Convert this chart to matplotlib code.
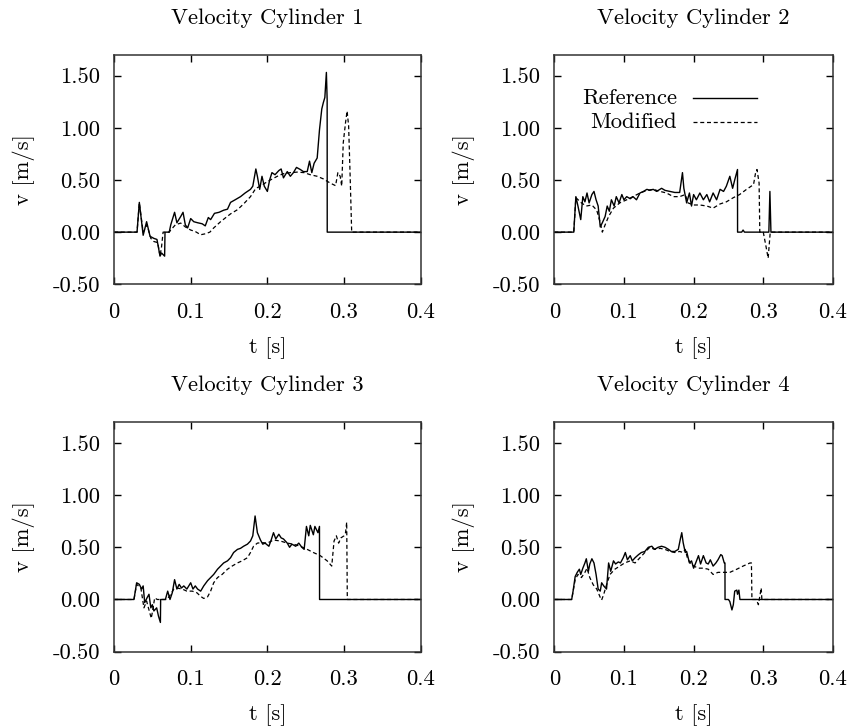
import matplotlib
matplotlib.use("Agg")
import matplotlib.pyplot as plt

plt.rcParams["font.family"] = ["cmr10", "DejaVu Serif"]
plt.rcParams["mathtext.fontset"] = "cm"
plt.rcParams["axes.unicode_minus"] = False

# cylinder 1
t_ref1 = [0, 0.030, 0.033, 0.038, 0.0425, 0.047, 0.052, 0.056, 0.060, 0.062, 0.066, 0.0665, 0.072,
          0.074, 0.079, 0.082, 0.087, 0.090, 0.093, 0.096, 0.100, 0.104, 0.109, 0.115, 0.119, 0.123,
          0.126, 0.131, 0.137, 0.143, 0.148, 0.152, 0.158, 0.165, 0.171, 0.178, 0.181, 0.185, 0.187,
          0.190, 0.193, 0.196, 0.200, 0.203, 0.206, 0.210, 0.215, 0.218, 0.221, 0.226, 0.230, 0.234,
          0.238, 0.243, 0.247, 0.252, 0.255, 0.258, 0.261, 0.265, 0.268, 0.271, 0.273, 0.275, 0.277,
          0.278, 0.2781, 0.4]
v_ref1 = [0, 0, 0.285, -0.03, 0.10, -0.04, -0.06, -0.07, -0.23, -0.20, -0.23, 0, 0,
          0.07, 0.19, 0.09, 0.15, 0.19, 0.07, 0.04, 0.13, 0.10, 0.09, 0.08, 0.06, 0.14,
          0.12, 0.18, 0.19, 0.21, 0.22, 0.285, 0.31, 0.34, 0.375, 0.41, 0.44, 0.605, 0.535,
          0.41, 0.535, 0.44, 0.39, 0.50, 0.57, 0.55, 0.59, 0.605, 0.52, 0.58, 0.535, 0.57,
          0.62, 0.60, 0.58, 0.58, 0.68, 0.57, 0.66, 0.71, 0.98, 1.18, 1.24, 1.29, 1.53,
          1.27, 0, 0]
t_mod1 = [0, 0.030, 0.033, 0.038, 0.043, 0.048, 0.052, 0.057, 0.060, 0.062, 0.064, 0.072,
          0.074, 0.080, 0.087, 0.093, 0.100, 0.106, 0.113, 0.119, 0.125, 0.130, 0.139, 0.145,
          0.152, 0.161, 0.169, 0.178, 0.185, 0.191, 0.197, 0.204, 0.213, 0.221, 0.230, 0.239,
          0.248, 0.256, 0.265, 0.273, 0.282, 0.289, 0.292, 0.295, 0.297, 0.299, 0.302, 0.304,
          0.306, 0.308, 0.310, 0.4]
v_mod1 = [0, 0, 0.28, 0, 0.07, -0.06, -0.09, -0.10, -0.23, -0.14, 0, 0,
          0.02, 0.07, 0.087, 0.05, 0.02, 0.006, -0.025, -0.016, 0, 0.04, 0.10, 0.135,
          0.175, 0.215, 0.27, 0.34, 0.42, 0.44, 0.47, 0.50, 0.535, 0.56, 0.57, 0.575,
          0.57, 0.55, 0.535, 0.51, 0.47, 0.445, 0.57, 0.535, 0.44, 0.855, 1.05, 1.16,
          1.02, 0.535, 0, 0]

# cylinder 2
t_ref2 = [0, 0.028, 0.031, 0.034, 0.038, 0.041, 0.044, 0.047, 0.050, 0.054, 0.057, 0.060, 0.063,
          0.066, 0.069, 0.073, 0.076, 0.079, 0.082, 0.086, 0.089, 0.093, 0.097, 0.100, 0.104,
          0.109, 0.113, 0.118, 0.123, 0.128, 0.133, 0.137, 0.142, 0.147, 0.154, 0.159, 0.166,
          0.173, 0.180, 0.184, 0.186, 0.190, 0.194, 0.197, 0.200, 0.204, 0.209, 0.214, 0.219,
          0.223, 0.228, 0.233, 0.238, 0.243, 0.247, 0.252, 0.256, 0.259, 0.263, 0.2631, 0.269,
          0.271, 0.273, 0.308, 0.3095, 0.311, 0.4]
v_ref2 = [0, 0, 0.34, 0.25, 0.12, 0.34, 0.29, 0.375, 0.28, 0.36, 0.39, 0.31, 0.25,
          0.05, 0.09, 0.15, 0.25, 0.20, 0.31, 0.25, 0.34, 0.28, 0.36, 0.31, 0.34,
          0.32, 0.34, 0.31, 0.375, 0.39, 0.41, 0.40, 0.41, 0.39, 0.42, 0.40, 0.39,
          0.38, 0.38, 0.57, 0.42, 0.28, 0.375, 0.25, 0.36, 0.31, 0.375, 0.31, 0.36,
          0.29, 0.375, 0.31, 0.41, 0.39, 0.44, 0.535, 0.42, 0.50, 0.60, 0, 0,
          0.02, 0, 0, 0.39, 0, 0]
t_mod2 = [0, 0.028, 0.031, 0.039, 0.046, 0.054, 0.061, 0.066, 0.069, 0.073, 0.078, 0.085,
          0.094, 0.104, 0.113, 0.123, 0.133, 0.142, 0.152, 0.161, 0.171, 0.180, 0.188, 0.192,
          0.200, 0.209, 0.219, 0.228, 0.238, 0.247, 0.257, 0.266, 0.276, 0.286, 0.289, 0.291,
          0.294, 0.295, 0.300, 0.304, 0.307, 0.310, 0.4]
v_mod2 = [0, 0, 0.33, 0.28, 0.25, 0.26, 0.21, 0.09, 0, 0.07, 0.15, 0.23,
          0.28, 0.31, 0.34, 0.375, 0.40, 0.41, 0.39, 0.375, 0.34, 0.34, 0.36, 0.28,
          0.26, 0.26, 0.25, 0.23, 0.27, 0.29, 0.33, 0.36, 0.41, 0.455, 0.57, 0.60,
          0.47, 0, 0, -0.14, -0.25, 0, 0]

# cylinder 3
t_ref3 = [0, 0.026, 0.0295, 0.033, 0.036, 0.038, 0.040, 0.043, 0.0456, 0.048, 0.050, 0.052,
          0.0556, 0.058, 0.0605, 0.0608, 0.067, 0.070, 0.073, 0.076, 0.079, 0.082, 0.085, 0.088,
          0.091, 0.095, 0.100, 0.103, 0.106, 0.109, 0.113, 0.117, 0.122, 0.126, 0.130, 0.135,
          0.139, 0.143, 0.148, 0.152, 0.156, 0.161, 0.165, 0.169, 0.174, 0.178, 0.181, 0.184,
          0.187, 0.191, 0.194, 0.197, 0.202, 0.205, 0.208, 0.211, 0.215, 0.218, 0.221, 0.226,
          0.229, 0.232, 0.237, 0.241, 0.245, 0.248, 0.251, 0.254, 0.256, 0.260, 0.262, 0.266,
          0.268, 0.2681, 0.4]
v_ref3 = [0, 0, 0.16, 0.145, 0.10, 0.13, -0.03, 0.015, 0.05, -0.08, -0.05, -0.11,
          -0.08, -0.16, -0.22, 0, 0, 0.08, 0, 0.065, 0.19, 0.10, 0.145, 0.11,
          0.13, 0.10, 0.16, 0.10, 0.13, 0.10, 0.08, 0.13, 0.18, 0.21, 0.24, 0.29,
          0.32, 0.35, 0.37, 0.40, 0.45, 0.48, 0.49, 0.51, 0.53, 0.56, 0.61, 0.80,
          0.64, 0.57, 0.53, 0.54, 0.51, 0.57, 0.64, 0.58, 0.625, 0.59, 0.58, 0.54,
          0.50, 0.53, 0.51, 0.54, 0.50, 0.48, 0.70, 0.61, 0.71, 0.62, 0.70, 0.64,
          0.70, 0, 0]
t_mod3 = [0, 0.026, 0.0295, 0.035, 0.039, 0.0425, 0.0456, 0.0486, 0.051, 0.053, 0.0564, 0.069,
          0.074, 0.078, 0.082, 0.089, 0.095, 0.102, 0.108, 0.113, 0.117, 0.122, 0.126, 0.130,
          0.135, 0.141, 0.148, 0.154, 0.161, 0.167, 0.174, 0.178, 0.182, 0.187, 0.193, 0.200,
          0.208, 0.217, 0.226, 0.234, 0.243, 0.252, 0.260, 0.269, 0.278, 0.284, 0.287, 0.290,
          0.293, 0.296, 0.300, 0.302, 0.3035, 0.3043, 0.4]
v_mod3 = [0, 0, 0.145, 0.11, -0.08, -0.015, -0.10, -0.18, -0.08, 0.015, 0, 0,
          0.05, 0.10, 0.11, 0.10, 0.08, 0.08, 0.065, 0.03, 0.01, 0.025, 0.08, 0.16,
          0.21, 0.24, 0.29, 0.32, 0.35, 0.37, 0.40, 0.45, 0.51, 0.54, 0.545, 0.54,
          0.57, 0.56, 0.54, 0.53, 0.51, 0.48, 0.45, 0.42, 0.37, 0.32, 0.56, 0.61,
          0.54, 0.59, 0.61, 0.64, 0.74, 0, 0]

# cylinder 4
t_ref4 = [0, 0.025, 0.027, 0.030, 0.033, 0.036, 0.038, 0.041, 0.044, 0.046, 0.049, 0.051,
          0.054, 0.057, 0.060, 0.063, 0.066, 0.068, 0.071, 0.075, 0.078, 0.081, 0.085, 0.088,
          0.092, 0.095, 0.099, 0.102, 0.105, 0.109, 0.112, 0.116, 0.121, 0.125, 0.130, 0.135,
          0.140, 0.144, 0.149, 0.154, 0.159, 0.164, 0.168, 0.173, 0.178, 0.181, 0.183, 0.185,
          0.188, 0.190, 0.194, 0.197, 0.200, 0.203, 0.207, 0.210, 0.214, 0.218, 0.221, 0.224,
          0.228, 0.232, 0.235, 0.239, 0.241, 0.244, 0.245, 0.2451, 0.250, 0.252, 0.255, 0.257,
          0.259, 0.262, 0.263, 0.265, 0.2665, 0.4]
v_ref4 = [0, 0, 0.08, 0.22, 0.26, 0.29, 0.24, 0.30, 0.35, 0.39, 0.27, 0.34,
          0.39, 0.35, 0.24, 0.10, 0.08, 0.16, 0.13, 0.10, 0.35, 0.27, 0.37, 0.34,
          0.36, 0.35, 0.40, 0.45, 0.38, 0.42, 0.37, 0.40, 0.43, 0.45, 0.46, 0.50,
          0.51, 0.48, 0.50, 0.51, 0.50, 0.48, 0.46, 0.46, 0.48, 0.58, 0.64, 0.545,
          0.45, 0.46, 0.35, 0.37, 0.30, 0.35, 0.42, 0.34, 0.42, 0.35, 0.34, 0.38,
          0.32, 0.35, 0.38, 0.43, 0.42, 0.35, 0.35, 0, 0, -0.02, -0.10, -0.05,
          0.08, 0.09, 0.05, 0.09, 0, 0]
t_mod4 = [0, 0.025, 0.030, 0.034, 0.039, 0.044, 0.047, 0.051, 0.056, 0.061, 0.066, 0.068,
          0.071, 0.075, 0.080, 0.087, 0.094, 0.101, 0.109, 0.116, 0.123, 0.130, 0.137, 0.144,
          0.152, 0.159, 0.166, 0.173, 0.180, 0.185, 0.188, 0.191, 0.195, 0.200, 0.207, 0.214,
          0.221, 0.228, 0.235, 0.243, 0.252, 0.262, 0.271, 0.281, 0.283, 0.2837, 0.290, 0.293,
          0.295, 0.297, 0.298, 0.4]
v_mod4 = [0, 0, 0.19, 0.24, 0.21, 0.26, 0.30, 0.21, 0.14, 0.10, 0.02, -0.005,
          0.05, 0.14, 0.24, 0.29, 0.32, 0.35, 0.37, 0.35, 0.40, 0.45, 0.50, 0.48,
          0.49, 0.48, 0.46, 0.45, 0.46, 0.45, 0.48, 0.40, 0.35, 0.32, 0.30, 0.30,
          0.29, 0.24, 0.26, 0.26, 0.26, 0.29, 0.32, 0.35, 0.35, 0, 0, -0.05,
          0.03, 0.11, 0, 0]

titles = ["Velocity Cylinder 1", "Velocity Cylinder 2", "Velocity Cylinder 3", "Velocity Cylinder 4"]
x_ticks = [0, 0.1, 0.2, 0.3, 0.4]
x_labels = ["0", "0.1", "0.2", "0.3", "0.4"]
y_ticks = [-0.5, 0.0, 0.5, 1.0, 1.5]
y_labels = ["-0.50", "0.00", "0.50", "1.00", "1.50"]

series = [
    (t_ref1, v_ref1, t_mod1, v_mod1),
    (t_ref2, v_ref2, t_mod2, v_mod2),
    (t_ref3, v_ref3, t_mod3, v_mod3),
    (t_ref4, v_ref4, t_mod4, v_mod4),
]

# axes boxes in figure fractions (left, bottom, width, height)
boxes = [
    (0.1329, 0.6089, 0.3574, 0.3159),
    (0.6460, 0.6089, 0.3248, 0.3159),
    (0.1329, 0.1036, 0.3574, 0.3159),
    (0.6460, 0.1036, 0.3248, 0.3159),
]

fs = 16.3
dash = (0, (3.2, 2.2))

fig = plt.figure(figsize=(8.58, 7.27), dpi=100)

for i, (tr, vr, tm, vm) in enumerate(series):
    ax = fig.add_axes(boxes[i])
    ax.plot(tr, vr, color="black", lw=1.0)
    ax.plot(tm, vm, color="black", lw=0.9, linestyle=dash)
    ax.set_xlim(0, 0.4)
    ax.set_ylim(-0.5, 1.7)
    ax.set_xticks(x_ticks)
    ax.set_xticklabels(x_labels)
    ax.set_yticks(y_ticks)
    ax.set_yticklabels(y_labels)
    ax.tick_params(direction="in", length=5, width=1.0, top=True, right=True,
                   labelsize=fs, colors="black")
    ax.tick_params(axis="x", pad=13)
    ax.tick_params(axis="y", pad=10)
    for s in ax.spines.values():
        s.set_linewidth(1.1)
        s.set_color("#333333")
    ax.set_title(titles[i], fontsize=fs, pad=22)
    ax.set_xlabel("t [s]", fontsize=fs, labelpad=11)
    ax.set_ylabel("v [m/s]", fontsize=fs, labelpad=13)

    if i == 1:
        ax.text(0.440, 0.811, "Reference", transform=ax.transAxes, ha="right",
                va="center", fontsize=fs)
        ax.text(0.440, 0.707, "Modified", transform=ax.transAxes, ha="right",
                va="center", fontsize=fs)
        ax.plot([0.497, 0.727], [0.811, 0.811], transform=ax.transAxes,
                color="black", lw=1.0)
        ax.plot([0.497, 0.727], [0.707, 0.707], transform=ax.transAxes,
                color="black", lw=0.9, linestyle=dash)

fig.savefig("out.png", dpi=100)
